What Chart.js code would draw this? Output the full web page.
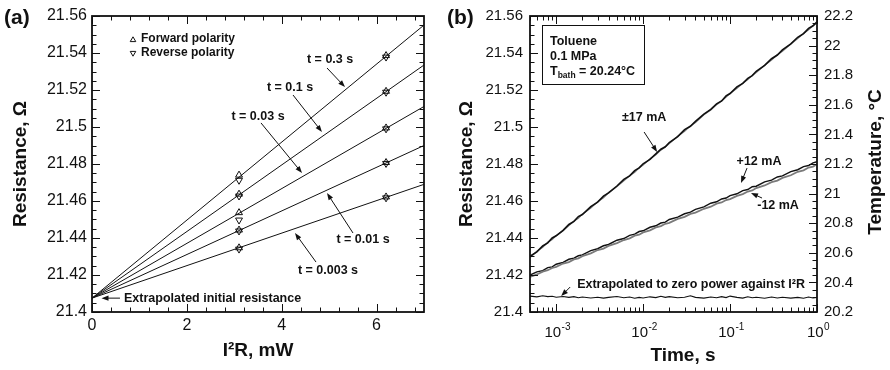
<!DOCTYPE html>
<html><head><meta charset="utf-8">
<script src="https://cdn.jsdelivr.net/npm/chart.js@4.4.0/dist/chart.umd.min.js"></script>
<style>
html,body{margin:0;padding:0;background:#fff;}
#wrap{position:relative;width:890px;height:370px;overflow:hidden;}
.pane{position:absolute;top:0;width:445px;height:370px;}
</style></head><body>
<div id="wrap">
<div class="pane" style="left:0"><canvas id="ca" width="445" height="370"></canvas></div>
<div class="pane" style="left:445px"><canvas id="cb" width="445" height="370"></canvas></div>
</div>
<script>
// ---------- DATA ----------
// Panel (a)
const xTicksA = [0, 2, 4, 6];
const xTickLabelsA = ['0', '2', '4', '6'];
const resTicks = [21.4, 21.42, 21.44, 21.46, 21.48, 21.5, 21.52, 21.54, 21.56];
const resTickLabels = ['21.4', '21.42', '21.44', '21.46', '21.48', '21.5', '21.52', '21.54', '21.56'];
const pulseLabels = ['t = 0.003 s', 't = 0.01 s', 't = 0.03 s', 't = 0.1 s', 't = 0.3 s'];
const powerPoints = [3.1, 6.2];            // I^2R, mW
const fitX = [0, 7];
const fitStart = 21.4075;                   // extrapolated initial resistance
const fitEnd = [21.4690, 21.4900, 21.5111, 21.5335, 21.5551];
const fwdLow = [21.4347, 21.4443, 21.4537, 21.4637, 21.4740];
const revLow = [21.4340, 21.4438, 21.4497, 21.4627, 21.4712];
const fwdHigh = [21.4622, 21.4808, 21.4995, 21.5193, 21.5386];
const revHigh = [21.4617, 21.4803, 21.4990, 21.5188, 21.5378];

// Panel (b)
const timeTicks = [0.001, 0.01, 0.1, 1];
const timeTickExp = ['-3', '-2', '-1', '0'];
const tempTicks = [20.2, 20.4, 20.6, 20.8, 21, 21.2, 21.4, 21.6, 21.8, 22, 22.2];
const tempTickLabels = ['20.2', '20.4', '20.6', '20.8', '21', '21.2', '21.4', '21.6', '21.8', '22', '22.2'];
const timeS = [0.0005,0.0006,0.0007,0.0008,0.0009,
  0.001,0.0012,0.0014,0.0016,0.0018,0.002,0.0025,0.003,0.0035,0.004,0.005,0.006,0.007,0.008,0.009,
  0.01,0.012,0.014,0.016,0.018,0.02,0.025,0.03,0.035,0.04,0.05,0.06,0.07,0.08,0.09,
  0.1,0.12,0.14,0.16,0.18,0.2,0.25,0.3,0.35,0.4,0.5,0.6,0.7,0.8,0.9,1.0];
const r17pos = [21.4301,21.4325,21.4357,21.4374,21.4400,21.4412,21.4441,21.4473,21.4490,21.4516,21.4527,21.4570,21.4594,21.4626,21.4644,21.4681,21.4717,21.4736,21.4764,21.4779,21.4801,21.4825,21.4855,21.4880,21.4893,21.4916,21.4948,21.4986,21.5004,21.5030,21.5070,21.5095,21.5125,21.5141,21.5168,21.5181,21.5217,21.5236,21.5263,21.5278,21.5301,21.5333,21.5369,21.5389,21.5417,21.5449,21.5485,21.5505,21.5533,21.5547,21.5569];
const r17neg = [21.4295,21.4328,21.4350,21.4377,21.4392,21.4413,21.4439,21.4467,21.4491,21.4507,21.4529,21.4562,21.4596,21.4618,21.4644,21.4678,21.4710,21.4737,21.4756,21.4779,21.4794,21.4828,21.4850,21.4875,21.4892,21.4911,21.4950,21.4977,21.5006,21.5025,21.5066,21.5092,21.5121,21.5141,21.5162,21.5181,21.5209,21.5237,21.5257,21.5279,21.5294,21.5334,21.5362,21.5390,21.5410,21.5449,21.5478,21.5505,21.5526,21.5547,21.5564];
const r12pos = [21.4200,21.4217,21.4224,21.4240,21.4244,21.4258,21.4268,21.4285,21.4291,21.4304,21.4309,21.4332,21.4342,21.4358,21.4365,21.4388,21.4397,21.4414,21.4421,21.4435,21.4439,21.4458,21.4466,21.4481,21.4486,21.4500,21.4513,21.4531,21.4540,21.4555,21.4568,21.4588,21.4596,21.4611,21.4616,21.4629,21.4639,21.4656,21.4662,21.4677,21.4680,21.4703,21.4713,21.4730,21.4736,21.4759,21.4769,21.4786,21.4792,21.4806,21.4812];
const r12neg = [21.4190,21.4203,21.4218,21.4226,21.4238,21.4244,21.4262,21.4270,21.4284,21.4290,21.4302,21.4317,21.4335,21.4343,21.4357,21.4372,21.4389,21.4398,21.4413,21.4418,21.4430,21.4441,21.4457,21.4464,21.4477,21.4482,21.4503,21.4514,21.4530,21.4537,21.4558,21.4569,21.4586,21.4592,21.4605,21.4610,21.4628,21.4637,21.4651,21.4657,21.4670,21.4684,21.4702,21.4710,21.4725,21.4739,21.4758,21.4766,21.4781,21.4786,21.4799];
const r0 = [21.4086,21.4082,21.4088,21.4083,21.4085,21.4080,21.4084,21.4079,21.4083,21.4077,21.4081,21.4076,21.4080,21.4075,21.4079,21.4084,21.4077,21.4081,21.4074,21.4079,21.4076,21.4082,21.4078,21.4085,21.4079,21.4083,21.4077,21.4080,21.4088,21.4079,21.4075,21.4081,21.4077,21.4083,21.4078,21.4086,21.4079,21.4075,21.4082,21.4077,21.4080,21.4074,21.4081,21.4076,21.4080,21.4075,21.4079,21.4074,21.4081,21.4076,21.4079];

// ---------- STYLE / LAYOUT ----------
const FF = '"Liberation Sans", Arial, Helvetica, sans-serif';
const INK = '#111';
const GRAY = '#7a7a7a';

function drawArrow(ctx, x1, y1, x2, y2) {
  const a = Math.atan2(y2 - y1, x2 - x1), L = 7, W = 2.6;
  ctx.beginPath(); ctx.moveTo(x1, y1);
  ctx.lineTo(x2 - Math.cos(a) * L * 0.7, y2 - Math.sin(a) * L * 0.7); ctx.stroke();
  ctx.beginPath(); ctx.moveTo(x2, y2);
  ctx.lineTo(x2 - L * Math.cos(a) + W * Math.sin(a), y2 - L * Math.sin(a) - W * Math.cos(a));
  ctx.lineTo(x2 - L * Math.cos(a) - W * Math.sin(a), y2 - L * Math.sin(a) + W * Math.cos(a));
  ctx.closePath(); ctx.fill();
}
function tri(ctx, x, y, r, down) {
  const s = down ? -1 : 1;
  ctx.beginPath();
  ctx.moveTo(x, y - s * r);
  ctx.lineTo(x + r * 0.87, y + s * r * 0.5);
  ctx.lineTo(x - r * 0.87, y + s * r * 0.5);
  ctx.closePath(); ctx.stroke();
}
function linTicks(min, max, step) {
  const out = []; const n = Math.round((max - min) / step);
  for (let i = 0; i <= n; i++) out.push(min + i * step);
  return out;
}
function vTitle(ctx, text, x, y, font) {
  ctx.save(); ctx.translate(x, y); ctx.rotate(-Math.PI / 2);
  ctx.font = font; ctx.textAlign = 'center'; ctx.textBaseline = 'middle'; ctx.fillText(text, 0, 0);
  ctx.restore();
}

// ---------- PANEL (a) ----------
const notesA = [
  {i: 4, tx: 5.02, ty: 21.5362, a: [4.955, 21.5319, 5.334, 21.5216]},
  {i: 3, tx: 4.175, ty: 21.5211, a: [4.238, 21.5173, 4.849, 21.4973]},
  {i: 2, tx: 3.50, ty: 21.5059, a: [3.563, 21.5022, 4.428, 21.4751]},
  {i: 1, tx: 5.714, ty: 21.4389, a: [5.503, 21.4427, 4.955, 21.4643]},
  {i: 0, tx: 4.976, ty: 21.4222, a: [4.723, 21.4270, 4.280, 21.4427]}
];

const decorA = {
  id: 'decorA',
  afterDraw(chart) {
    const {ctx, chartArea: c, scales: {x, y}} = chart;
    ctx.save();
    ctx.strokeStyle = INK; ctx.fillStyle = INK;
    ctx.lineWidth = 1;
    ctx.beginPath();
    linTicks(0, 6.8, 0.4).forEach(v => {
      const px = Math.round(x.getPixelForValue(v)) + 0.5;
      const major = Math.abs(v / 2 - Math.round(v / 2)) < 1e-6;
      const L = major ? 8 : 4.5;
      ctx.moveTo(px, c.bottom); ctx.lineTo(px, c.bottom - L);
      ctx.moveTo(px, c.top); ctx.lineTo(px, c.top + L);
    });
    linTicks(21.4, 21.56, 0.005).forEach(v => {
      const py = Math.round(y.getPixelForValue(v)) + 0.5;
      const major = Math.abs(v / 0.02 - Math.round(v / 0.02)) < 1e-4;
      const L = major ? 8 : 4.5;
      ctx.moveTo(c.left, py); ctx.lineTo(c.left + L, py);
      ctx.moveTo(c.right, py); ctx.lineTo(c.right - L, py);
    });
    ctx.stroke();
    ctx.lineWidth = 1.8;
    ctx.strokeRect(c.left, c.top, c.right - c.left, c.bottom - c.top);
    // legend
    ctx.lineWidth = 1;
    tri(ctx, c.left + 41, c.top + 24, 3.2, false);
    tri(ctx, c.left + 41, c.top + 37, 3.2, true);
    ctx.font = 'bold 12px ' + FF; ctx.textAlign = 'left'; ctx.textBaseline = 'middle';
    ctx.fillText('Forward polarity', c.left + 49, c.top + 23);
    ctx.fillText('Reverse polarity', c.left + 49, c.top + 37);
    // annotations
    ctx.font = 'bold 12.5px ' + FF; ctx.textAlign = 'center';
    notesA.forEach(n => {
      ctx.fillText(pulseLabels[n.i], x.getPixelForValue(n.tx), y.getPixelForValue(n.ty));
      drawArrow(ctx, x.getPixelForValue(n.a[0]), y.getPixelForValue(n.a[1]), x.getPixelForValue(n.a[2]), y.getPixelForValue(n.a[3]));
    });
    ctx.textAlign = 'left';
    ctx.fillText('Extrapolated initial resistance', x.getPixelForValue(0.675), y.getPixelForValue(fitStart) + 0.5);
    drawArrow(ctx, x.getPixelForValue(0.59), y.getPixelForValue(fitStart), x.getPixelForValue(0.2), y.getPixelForValue(fitStart));
    // titles
    ctx.font = 'bold 21px ' + FF; ctx.textAlign = 'left'; ctx.textBaseline = 'middle';
    ctx.fillText('(a)', 4, 18);
    vTitle(ctx, 'Resistance, \u03A9', 21, (c.top + c.bottom) / 2, 'bold 19px ' + FF);
    ctx.font = 'bold 19px ' + FF; ctx.textAlign = 'center';
    ctx.fillText('I\u00B2R, mW', (c.left + c.right) / 2, 351);
    ctx.restore();
  }
};

const dsA = [];
fitEnd.forEach((e, i) => {
  dsA.push({type: 'line', data: fitX.map((xv, j) => ({x: xv, y: j === 0 ? fitStart : e})),
    borderColor: INK, borderWidth: 1, pointRadius: 0, showLine: true});
});
const fwdPts = [], revPts = [];
fwdLow.forEach((v, i) => { fwdPts.push({x: powerPoints[0], y: v}); fwdPts.push({x: powerPoints[1], y: fwdHigh[i]}); });
revLow.forEach((v, i) => { revPts.push({x: powerPoints[0], y: v}); revPts.push({x: powerPoints[1], y: revHigh[i]}); });
dsA.push({data: fwdPts, pointStyle: 'triangle', pointRadius: 4, pointBorderColor: INK, pointBackgroundColor: 'rgba(0,0,0,0)', pointBorderWidth: 1, showLine: false});
dsA.push({data: revPts, pointStyle: 'triangle', pointRotation: 180, pointRadius: 4, pointBorderColor: INK, pointBackgroundColor: 'rgba(0,0,0,0)', pointBorderWidth: 1, showLine: false});

new Chart(document.getElementById('ca'), {
  type: 'scatter',
  data: {datasets: dsA},
  options: {
    responsive: false, animation: false, devicePixelRatio: 1,
    layout: {padding: {left: 0, right: 21, top: 16, bottom: 0}},
    plugins: {legend: {display: false}, tooltip: {enabled: false}},
    scales: {
      x: {type: 'linear', min: 0, max: 7,
        afterBuildTicks: s => { s.ticks = xTicksA.map(v => ({value: v})); },
        afterFit: s => { s.height = 58; },
        grid: {display: false, drawTicks: false}, border: {display: false},
        ticks: {padding: 4, color: INK, font: {family: FF, size: 16}, maxRotation: 0,
          callback: (v) => xTickLabelsA[xTicksA.indexOf(v)] ?? ''}},
      y: {type: 'linear', min: 21.4, max: 21.56,
        afterBuildTicks: s => { s.ticks = resTicks.map(v => ({value: v})); },
        afterFit: s => { s.width = 92; },
        grid: {display: false, drawTicks: false}, border: {display: false},
        ticks: {padding: 5, color: INK, font: {family: FF, size: 16},
          callback: (v) => { const k = resTicks.findIndex(t => Math.abs(t - v) < 1e-6); return k >= 0 ? resTickLabels[k] : ''; }}}
    }
  },
  plugins: [decorA]
});

// ---------- PANEL (b) ----------
const notesB = [
  {text: '\u00B117 mA', tx: 0.01026, ty: 21.5049, a: [0.01026, 21.4973, 0.01449, 21.4865]},
  {text: '+12 mA', tx: 0.2153, ty: 21.4811, a: [0.1567, 21.4778, 0.1337, 21.4697]},
  {text: '-12 mA', tx: 0.3565, ty: 21.4573, a: [0.2333, 21.4616, 0.1742, 21.4643]}
];

const decorB = {
  id: 'decorB',
  afterDraw(chart) {
    const {ctx, chartArea: c, scales: {x, y, y1}} = chart;
    ctx.save();
    ctx.strokeStyle = INK; ctx.fillStyle = INK; ctx.lineWidth = 1;
    ctx.beginPath();
    for (let e = -4; e <= 0; e++) {
      for (let k = 1; k <= 9; k++) {
        const v = k * Math.pow(10, e);
        if (v < x.min * 0.999 || v > x.max * 1.001) continue;
        const px = Math.round(x.getPixelForValue(v)) + 0.5;
        const L = k === 1 ? 8 : 4.5;
        ctx.moveTo(px, c.bottom); ctx.lineTo(px, c.bottom - L);
        ctx.moveTo(px, c.top); ctx.lineTo(px, c.top + L);
      }
    }
    linTicks(21.4, 21.56, 0.005).forEach(v => {
      const py = Math.round(y.getPixelForValue(v)) + 0.5;
      const major = Math.abs(v / 0.02 - Math.round(v / 0.02)) < 1e-4;
      ctx.moveTo(c.left, py); ctx.lineTo(c.left + (major ? 8 : 4.5), py);
    });
    linTicks(20.2, 22.2, 0.05).forEach(v => {
      const py = Math.round(y1.getPixelForValue(v)) + 0.5;
      const major = Math.abs(v / 0.2 - Math.round(v / 0.2)) < 1e-4;
      ctx.moveTo(c.right, py); ctx.lineTo(c.right - (major ? 8 : 4.5), py);
    });
    ctx.stroke();
    ctx.lineWidth = 1.8;
    ctx.strokeRect(c.left, c.top, c.right - c.left, c.bottom - c.top);
    timeTicks.forEach((v, i) => {
      const px = x.getPixelForValue(v);
      ctx.font = '15px ' + FF; const w1 = ctx.measureText('10').width;
      ctx.font = '10px ' + FF; const w2 = ctx.measureText(timeTickExp[i]).width;
      const x0 = px - (w1 + w2) / 2 + 1;
      ctx.textAlign = 'left'; ctx.textBaseline = 'middle';
      ctx.font = '15px ' + FF; ctx.fillText('10', x0, 333);
      ctx.font = '10px ' + FF; ctx.fillText(timeTickExp[i], x0 + w1 + 0.5, 327);
    });
    ctx.lineWidth = 1;
    const bx = c.left + 12, by = c.top + 9;
    ctx.strokeRect(bx + 0.5, by + 0.5, 102, 59);
    ctx.textAlign = 'left'; ctx.textBaseline = 'middle';
    ctx.font = 'bold 12.5px ' + FF;
    ctx.fillText('Toluene', bx + 8, by + 17);
    ctx.fillText('0.1 MPa', bx + 8, by + 32);
    ctx.fillText('T', bx + 8, by + 47);
    let tw = ctx.measureText('T').width;
    ctx.font = 'bold 8.5px ' + FF; ctx.fillText('bath', bx + 8 + tw, by + 51);
    const sw = ctx.measureText('bath').width;
    ctx.font = 'bold 12.5px ' + FF; ctx.fillText(' = 20.24\u00B0C', bx + 8 + tw + sw, by + 47);
    ctx.font = 'bold 12.5px ' + FF; ctx.textAlign = 'center';
    notesB.forEach(n => {
      ctx.fillText(n.text, x.getPixelForValue(n.tx), y.getPixelForValue(n.ty));
      drawArrow(ctx, x.getPixelForValue(n.a[0]), y.getPixelForValue(n.a[1]), x.getPixelForValue(n.a[2]), y.getPixelForValue(n.a[3]));
    });
    ctx.textAlign = 'left';
    ctx.fillText('Extrapolated to zero power against I\u00B2R', x.getPixelForValue(0.001742), y.getPixelForValue(21.4151));
    drawArrow(ctx, x.getPixelForValue(0.001449), y.getPixelForValue(21.4135), x.getPixelForValue(0.001141), y.getPixelForValue(21.4086));
    ctx.font = 'bold 21px ' + FF; ctx.textAlign = 'left';
    ctx.fillText('(b)', 2, 18);
    vTitle(ctx, 'Resistance, \u03A9', 22, (c.top + c.bottom) / 2, 'bold 19px ' + FF);
    vTitle(ctx, 'Temperature, \u00B0C', 431, (c.top + c.bottom) / 2 - 2, 'bold 19px ' + FF);
    ctx.font = 'bold 19px ' + FF; ctx.textAlign = 'center';
    ctx.fillText('Time, s', 238, 356);
    ctx.restore();
  }
};

const mk = (arr, color, w) => ({data: timeS.map((t, i) => ({x: t, y: arr[i]})), borderColor: color, borderWidth: w,
  pointRadius: 0, showLine: true, tension: 0, yAxisID: 'y'});

new Chart(document.getElementById('cb'), {
  type: 'scatter',
  data: {datasets: [
    mk(r17pos, INK, 1.6), mk(r17neg, GRAY, 1.3),
    mk(r12neg, GRAY, 1.8), mk(r12pos, INK, 1.4),
    mk(r0, INK, 1.1)
  ]},
  options: {
    responsive: false, animation: false, devicePixelRatio: 1,
    layout: {padding: {left: 0, right: 0, top: 16, bottom: 0}},
    plugins: {legend: {display: false}, tooltip: {enabled: false}},
    scales: {
      x: {type: 'logarithmic', min: 0.0005, max: 1,
        afterBuildTicks: s => { s.ticks = timeTicks.map(v => ({value: v})); },
        afterFit: s => { s.height = 58; },
        grid: {display: false, drawTicks: false}, border: {display: false},
        ticks: {callback: () => '', font: {size: 1}}},
      y: {type: 'linear', position: 'left', min: 21.4, max: 21.56,
        afterBuildTicks: s => { s.ticks = resTicks.map(v => ({value: v})); },
        afterFit: s => { s.width = 85; },
        grid: {display: false, drawTicks: false}, border: {display: false},
        ticks: {padding: 7, color: INK, font: {family: FF, size: 15},
          callback: (v) => { const k = resTicks.findIndex(t => Math.abs(t - v) < 1e-6); return k >= 0 ? resTickLabels[k] : ''; }}},
      y1: {type: 'linear', position: 'right', min: 20.2, max: 22.2,
        afterBuildTicks: s => { s.ticks = tempTicks.map(v => ({value: v})); },
        afterFit: s => { s.width = 73; },
        grid: {display: false, drawTicks: false}, border: {display: false},
        ticks: {padding: 7, color: INK, font: {family: FF, size: 15},
          callback: (v) => { const k = tempTicks.findIndex(t => Math.abs(t - v) < 1e-6); return k >= 0 ? tempTickLabels[k] : ''; }}}
    }
  },
  plugins: [decorB]
});
</script>
</body></html>
